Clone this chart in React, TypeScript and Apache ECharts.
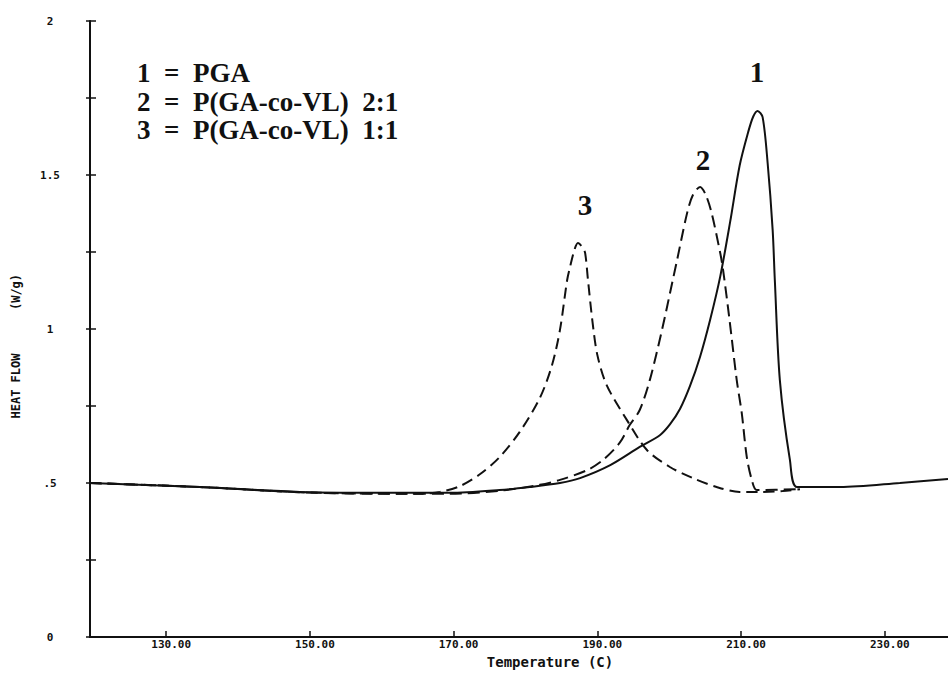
import React, { useEffect, useRef } from "react";
import * as echarts from "echarts";

// DSC heating scans: heat flow (W/g) against temperature (°C)
const pgaTemp = [119.4, 134.7, 148.6, 162.5, 169.5, 176.4, 180.6, 184.8, 187.6, 191.8, 195.9, 198.7, 200.1, 201.5, 202.9, 204.3, 205.7, 207.1, 208.5, 209.8, 211.0, 211.7, 212.3, 213.0, 213.7, 214.4, 214.7, 215.4, 216.8, 217.8, 223.8, 232.1, 238.8];
const pgaFlow = [0.5, 0.487, 0.471, 0.468, 0.468, 0.477, 0.487, 0.5, 0.516, 0.558, 0.617, 0.655, 0.69, 0.74, 0.815, 0.91, 1.03, 1.17, 1.35, 1.53, 1.64, 1.69, 1.708, 1.688, 1.539, 1.321, 1.159, 0.834, 0.575, 0.487, 0.487, 0.5, 0.513];

const co21Temp = [119.4, 134.7, 148.6, 162.5, 169.5, 176.4, 182.0, 184.8, 188.6, 190.8, 193.1, 194.5, 195.9, 197.3, 199.0, 200.5, 201.1, 202.5, 203.3, 204.3, 205.1, 205.9, 207.1, 207.5, 208.4, 209.4, 210.1, 210.8, 211.5, 212.2, 217.8];
const co21Flow = [0.5, 0.487, 0.47, 0.465, 0.465, 0.475, 0.494, 0.51, 0.542, 0.575, 0.63, 0.688, 0.737, 0.834, 0.997, 1.159, 1.224, 1.377, 1.435, 1.461, 1.435, 1.377, 1.247, 1.192, 1.029, 0.834, 0.727, 0.584, 0.51, 0.477, 0.48];

const co11Temp = [119.4, 134.7, 148.6, 165.3, 168.1, 170.9, 173.7, 176.4, 179.2, 182.0, 183.7, 184.8, 185.8, 186.2, 186.8, 187.3, 187.9, 188.3, 188.7, 189.3, 190.0, 191.3, 194.1, 196.9, 200.1, 203.3, 206.6, 209.8, 212.6, 215.8, 218.2];
const co11Flow = [0.5, 0.487, 0.47, 0.465, 0.471, 0.49, 0.529, 0.584, 0.666, 0.776, 0.883, 0.997, 1.159, 1.201, 1.256, 1.279, 1.266, 1.247, 1.159, 1.029, 0.916, 0.818, 0.705, 0.607, 0.552, 0.516, 0.487, 0.471, 0.471, 0.474, 0.48];

const tempTicks = [130, 150, 170, 190, 210, 230];
const flowLabels: Record<string, string> = { "0": "0", "0.5": ".5", "1": "1", "1.5": "1.5", "2": "2" };
const legendLines = ["1  =  PGA", "2  =  P(GA-co-VL)  2:1", "3  =  P(GA-co-VL)  1:1"];

const zip = (xs: number[], ys: number[]) => xs.map((x, i) => [x, ys[i]]);

const plotFont = '"DejaVu Sans Mono", monospace';
const serifFont = '"Liberation Serif", "Times New Roman", serif';
const ink = "#111";

export default function App() {
  const ref = useRef<HTMLDivElement>(null);

  useEffect(() => {
    if (!ref.current) return;
    const chart = echarts.init(ref.current, null, { renderer: "svg" });

    const lineSeries = (name: string, data: number[][], type: any) => ({
      name,
      type: "line",
      data,
      showSymbol: false,
      smooth: 0.3,
      lineStyle: { color: ink, width: 2, type },
      z: 3,
    });

    chart.setOption({
      animation: false,
      backgroundColor: "#fff",
      grid: { left: 90, right: 0, top: 21, bottom: 40 },
      xAxis: [
        {
          type: "value",
          min: 119.4,
          max: 238.8,
          axisLine: { show: true, lineStyle: { color: ink, width: 2 } },
          axisTick: { show: true, inside: true, length: 6, customValues: tempTicks, lineStyle: { color: ink, width: 1.5 } },
          axisLabel: {
            customValues: tempTicks,
            formatter: (v: number) => v.toFixed(2),
            color: ink,
            fontFamily: plotFont,
            fontWeight: "bold",
            fontSize: 11,
            margin: 2,
            padding: [0, 0, 0, 10],
          },
          splitLine: { show: false },
        },
        {
          type: "value",
          position: "top",
          min: 119.4,
          max: 238.8,
          axisLine: { show: true, lineStyle: { color: ink, width: 2 } },
          axisTick: { show: false },
          axisLabel: { show: false },
          splitLine: { show: false },
        },
      ],
      yAxis: [
        {
          type: "value",
          min: 0,
          max: 2,
          interval: 0.25,
          axisLine: { show: true, lineStyle: { color: ink, width: 2 } },
          axisTick: { show: true, inside: true, length: 6, lineStyle: { color: ink, width: 1.5 } },
          axisLabel: {
            formatter: (v: number) => flowLabels[String(v)] ?? "",
            color: ink,
            fontFamily: plotFont,
            fontWeight: "bold",
            fontSize: 11,
            margin: 40,
            align: "center",
          },
          splitLine: { show: false },
        },
        {
          type: "value",
          position: "left",
          min: 0,
          max: 2,
          interval: 0.25,
          axisLine: { show: false },
          axisTick: { show: true, inside: false, length: 4, lineStyle: { color: ink, width: 1.5 } },
          axisLabel: { show: false },
          splitLine: { show: false },
        },
      ],
      series: [
        lineSeries("PGA", zip(pgaTemp, pgaFlow), "solid"),
        lineSeries("P(GA-co-VL) 2:1", zip(co21Temp, co21Flow), [12, 6]),
        lineSeries("P(GA-co-VL) 1:1", zip(co11Temp, co11Flow), [11, 6]),
      ],
      graphic: [
        ...legendLines.map((t, i) => ({
          type: "text",
          x: 137,
          y: 73 + i * 28.5,
          style: { text: t, font: `bold 27px ${serifFont}`, fill: ink, verticalAlign: "middle" },
        })),
        { type: "text", x: 757, y: 72, style: { text: "1", font: `bold 29px ${serifFont}`, fill: ink, align: "center", verticalAlign: "middle" } },
        { type: "text", x: 703, y: 160, style: { text: "2", font: `bold 29px ${serifFont}`, fill: ink, align: "center", verticalAlign: "middle" } },
        { type: "text", x: 585, y: 205, style: { text: "3", font: `bold 29px ${serifFont}`, fill: ink, align: "center", verticalAlign: "middle" } },
        {
          type: "text",
          x: 16,
          y: 386,
          rotation: Math.PI / 2,
          style: { text: "HEAT FLOW", font: `bold 12px ${plotFont}`, fill: ink, align: "center", verticalAlign: "middle" },
        },
        {
          type: "text",
          x: 16,
          y: 292,
          rotation: Math.PI / 2,
          style: { text: "(W/g)", font: `bold 12px ${plotFont}`, fill: ink, align: "center", verticalAlign: "middle" },
        },
        {
          type: "text",
          x: 550,
          y: 662,
          style: { text: "Temperature (C)", font: `bold 14px ${plotFont}`, fill: ink, align: "center", verticalAlign: "middle" },
        },
      ],
    });

    return () => chart.dispose();
  }, []);

  return <div ref={ref} style={{ position: "fixed", left: 0, top: 0, width: 948, height: 677 }} />;
}
